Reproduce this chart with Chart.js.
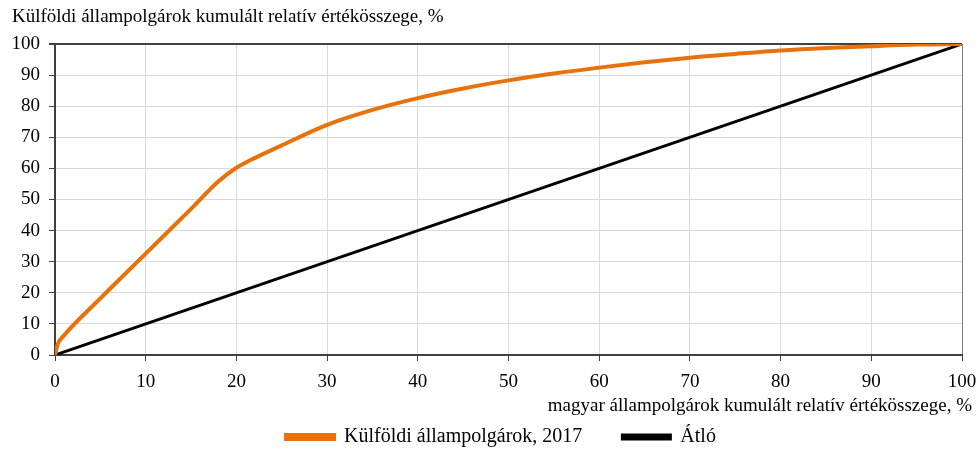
<!DOCTYPE html>
<html>
<head>
<meta charset="utf-8">
<script src="https://cdn.jsdelivr.net/npm/chart.js@4/dist/chart.umd.min.js"></script>
<style>
  html, body { margin: 0; padding: 0; background: #fff; }
  #wrap { width: 980px; height: 450px; }
</style>
</head>
<body>
<div id="wrap"><canvas id="lorenzChart" width="980" height="450"></canvas></div>
<script>
// --- Data ---
const foreignX = [0, 0.3, 1, 5, 10, 15, 18, 20, 21.5, 25, 30, 35, 40, 45, 50, 55, 60, 65, 70, 75, 80, 85, 90, 95, 100];
const foreignY = [0, 3.5, 6.3, 18.2, 32.6, 47, 55.8, 60.2, 62.6, 67.4, 74, 78.8, 82.6, 85.7, 88.3, 90.5, 92.4, 94.1, 95.6, 96.8, 97.9, 98.7, 99.3, 99.8, 100];
const diagX = [0, 100];
const diagY = [0, 100];
const seriesLabels = ['Külföldi állampolgárok, 2017', 'Átló'];
const yTitle = 'Külföldi állampolgárok kumulált relatív értékösszege, %';
const xTitle = 'magyar állampolgárok kumulált relatív értékösszege, %';

const FONT = "'Liberation Serif', 'DejaVu Serif', serif";

// axis titles drawn as text at the chart corners, legend nudged into place
const axisTitles = {
    id: 'axisTitles',
    afterLayout(chart) {
        const lg = chart.legend;
        if (lg) {
            lg.left += 20;
            lg.right += 20;
            lg.top -= 8;
            lg.bottom -= 8;
        }
    },
    afterDraw(chart) {
        const { ctx, chartArea } = chart;
        ctx.save();
        ctx.fillStyle = '#000';
        ctx.font = "19px " + FONT;
        ctx.textBaseline = 'middle';
        ctx.textAlign = 'left';
        ctx.fillText(yTitle, 12, 17);
        ctx.textAlign = 'right';
        ctx.fillText(xTitle, chartArea.right + 10, chartArea.bottom + 51);
        ctx.restore();
    }
};

new Chart(document.getElementById('lorenzChart'), {
    type: 'line',
    data: {
        datasets: [
            {
                label: seriesLabels[0],
                data: foreignX.map((x, i) => ({ x: x, y: foreignY[i] })),
                borderColor: '#E8710A',
                backgroundColor: '#E8710A',
                borderWidth: 4,
                pointRadius: 0,
                cubicInterpolationMode: 'monotone'
            },
            {
                label: seriesLabels[1],
                data: diagX.map((x, i) => ({ x: x, y: diagY[i] })),
                borderColor: '#000',
                backgroundColor: '#000',
                borderWidth: 3,
                pointRadius: 0
            }
        ]
    },
    options: {
        responsive: false,
        animation: false,
        layout: { padding: { top: 44, right: 18, left: 0, bottom: -15 } },
        plugins: {
            tooltip: { enabled: false },
            legend: {
                position: 'bottom',
                labels: {
                    color: '#000',
                    font: { family: FONT, size: 20 },
                    boxWidth: 48,
                    boxHeight: 4,
                    padding: 40
                }
            }
        },
        scales: {
            x: {
                type: 'linear',
                min: 0, max: 100,
                afterFit: s => {
                    s.height = 40;
                    s.paddingLeft = 0;
                    s.paddingRight = 0;
                },
                ticks: {
                    stepSize: 10,
                    color: '#000',
                    font: { family: FONT, size: 19 },
                    padding: 10,
                    maxRotation: 0
                },
                grid: {
                    color: ctx => ctx.tick && ctx.tick.value === 100 ? '#808080' : '#d9d9d9',
                    tickColor: '#404040',
                    tickLength: 6,
                    lineWidth: 1
                },
                border: { color: '#404040', width: 2 }
            },
            y: {
                type: 'linear',
                min: 0, max: 100,
                afterFit: s => {
                    s.width = 55;
                    s.paddingTop = 0;
                    s.paddingBottom = 0;
                },
                ticks: {
                    stepSize: 10,
                    color: '#000',
                    font: { family: FONT, size: 19 },
                    padding: 9
                },
                grid: {
                    color: ctx => ctx.tick && ctx.tick.value === 100 ? '#404040' : '#d9d9d9',
                    tickColor: '#404040',
                    tickLength: 6,
                    lineWidth: ctx => ctx.tick && ctx.tick.value === 100 ? 2 : 1
                },
                border: { color: '#404040', width: 2 }
            }
        }
    },
    plugins: [axisTitles]
});
</script>
</body>
</html>
